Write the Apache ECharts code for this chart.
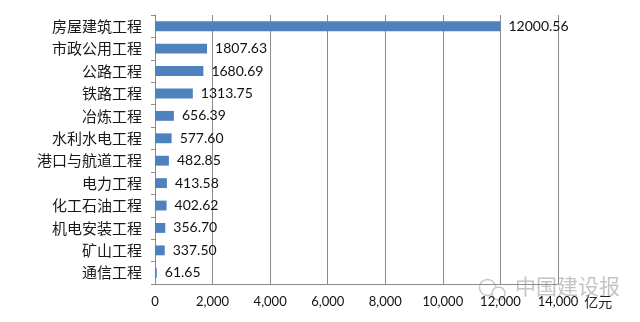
<!DOCTYPE html>
<html>
<head>
<meta charset="utf-8">
<script src="https://cdn.jsdelivr.net/npm/echarts@6/dist/echarts.min.js"></script>
<style>
html,body{margin:0;padding:0;background:#fff;}
#chart{width:640px;height:322px;}
</style>
</head>
<body>
<div id="chart"></div>
<script>
var categories = ['房屋建筑工程','市政公用工程','公路工程','铁路工程','冶炼工程','水利水电工程','港口与航道工程','电力工程','化工石油工程','机电安装工程','矿山工程','通信工程'];
var values = [12000.56, 1807.63, 1680.69, 1313.75, 656.39, 577.60, 482.85, 413.58, 402.62, 356.70, 337.50, 61.65];
var xTicks = {min: 0, max: 14000, interval: 2000};
var unitLabel = '亿元';
var watermark = '中国建设报';

var chart = echarts.init(document.getElementById('chart'), null, {renderer: 'canvas'});
var numFont = 'Lato, "Open Sans", sans-serif';
chart.setOption({
  animation: false,
  backgroundColor: '#ffffff',
  grid: {left: 155, right: 82, top: 15, bottom: 38, containLabel: false},
  xAxis: {
    type: 'value',
    min: xTicks.min, max: xTicks.max, interval: xTicks.interval,
    name: unitLabel,
    nameLocation: 'end',
    nameGap: 25,
    nameTextStyle: {color: '#222', fontSize: 14, fontFamily: '"Noto Sans CJK SC", sans-serif', verticalAlign: 'top', padding: [11, 0, 0, 0]},
    axisLine: {show: true, lineStyle: {color: '#8c8c8c', width: 1}},
    axisTick: {show: false},
    axisLabel: {color: '#111', fontSize: 13, fontFamily: numFont, margin: 11,
      formatter: function (v) { return v.toLocaleString('en-US'); }},
    splitLine: {show: true, lineStyle: {color: '#8c8c8c', width: 1}}
  },
  yAxis: {
    type: 'category',
    data: categories,
    inverse: true,
    axisLine: {show: true, lineStyle: {color: '#8c8c8c', width: 1}},
    axisTick: {show: true, length: 4, lineStyle: {color: '#8c8c8c'}},
    axisLabel: {color: '#1a1a1a', fontSize: 15, fontFamily: '"Noto Sans CJK SC", sans-serif', margin: 13}
  },
  series: [{
    type: 'bar',
    data: values,
    barWidth: '44%',
    itemStyle: {color: '#4F81BD'},
    label: {
      show: true, position: 'right', distance: 8,
      color: '#111', fontSize: 14, fontFamily: numFont,
      formatter: function (p) { return p.value.toFixed(2); }
    }
  }],
  graphic: [
    {type: 'group', left: 477, top: 277, silent: true, children: [
      {type: 'circle', shape: {cx: 10, cy: 10, r: 8}, style: {fill: 'none', stroke: '#c8c8c8', lineWidth: 1.5}},
      {type: 'circle', shape: {cx: 21, cy: 16, r: 6.5}, style: {fill: '#fff', stroke: '#c8c8c8', lineWidth: 1.5}}
    ]},
    {type: 'text', left: 515, top: 276, silent: true,
      style: {text: watermark, fill: '#c4c4c4', fontSize: 21, fontFamily: '"Noto Sans CJK SC", sans-serif'}}
  ]
});
</script>
</body>
</html>
